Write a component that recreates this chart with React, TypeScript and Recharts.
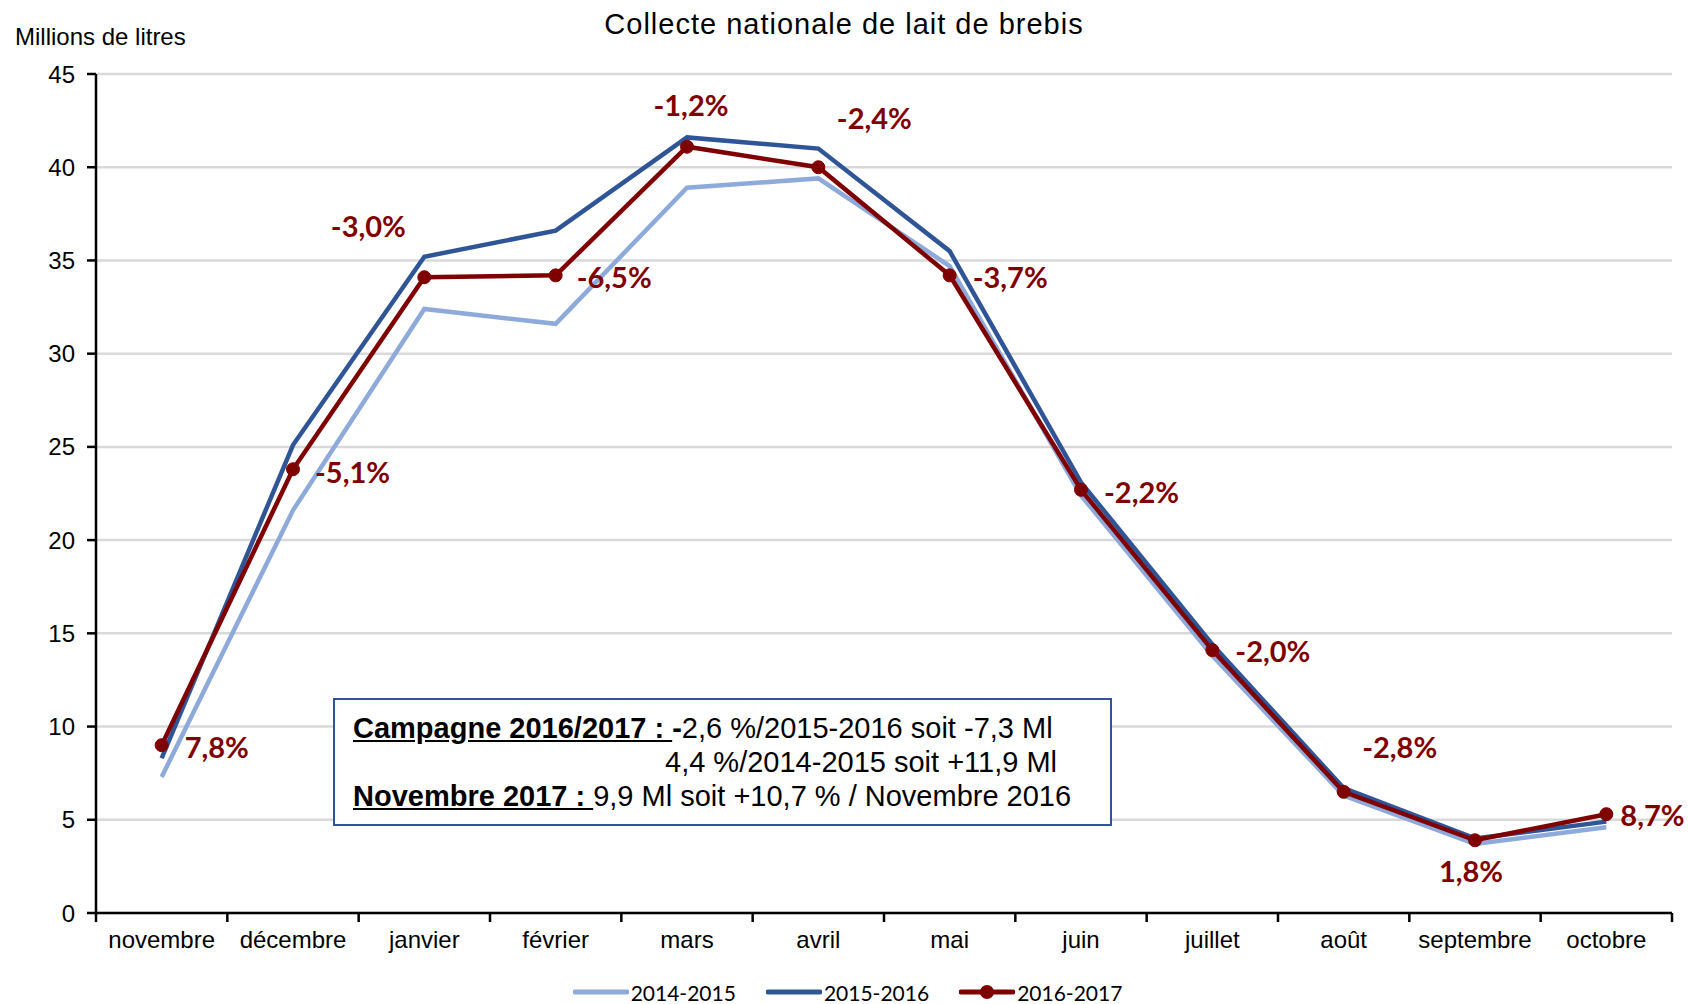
import { LineChart, Line, XAxis, YAxis, CartesianGrid, Legend, LabelList } from "recharts"

const months = ["novembre", "décembre", "janvier", "février", "mars", "avril", "mai", "juin", "juillet", "août", "septembre", "octobre"]
const serie1415 = [7.3, 21.6, 32.4, 31.6, 38.9, 39.4, 34.7, 22.4, 13.8, 6.3, 3.7, 4.6]
const serie1516 = [8.3, 25.1, 35.2, 36.6, 41.6, 41.0, 35.5, 23.1, 14.4, 6.7, 4.0, 4.9]
const serie1617 = [9.0, 23.8, 34.1, 34.2, 41.1, 40.0, 34.2, 22.7, 14.1, 6.5, 3.9, 5.3]
const variations = ["7,8%", "-5,1%", "-3,0%", "-6,5%", "-1,2%", "-2,4%", "-3,7%", "-2,2%", "-2,0%", "-2,8%", "1,8%", "8,7%"]
const yTicks = [0, 5, 10, 15, 20, 25, 30, 35, 40, 45]

const SERIES = [
    { key: "s1415", name: "2014-2015", color: "#8EAADB" },
    { key: "s1516", name: "2015-2016", color: "#2F5597" },
    { key: "s1617", name: "2016-2017", color: "#7F0000" },
]

// where each variation label sits relative to its point
const LABEL_POS = [
    { dx: 23, dy: 1, anchor: "start" },
    { dx: 22, dy: 2, anchor: "start" },
    { dx: -56, dy: -52, anchor: "middle" },
    { dx: 21, dy: 1, anchor: "start" },
    { dx: 4, dy: -42, anchor: "middle" },
    { dx: 56, dy: -50, anchor: "middle" },
    { dx: 23, dy: 1, anchor: "start" },
    { dx: 23, dy: 2, anchor: "start" },
    { dx: 23, dy: 0, anchor: "start" },
    { dx: 56, dy: -45, anchor: "middle" },
    { dx: -4, dy: 30, anchor: "middle" },
    { dx: 14, dy: 0, anchor: "start" },
]

const data = months.map((m, i) => ({
    month: m,
    s1415: serie1415[i],
    s1516: serie1516[i],
    s1617: serie1617[i],
    variation: variations[i],
}))

const W = 1688
const H = 1004
const PLOT_LEFT = 96
const PLOT_RIGHT = 16
const PLOT_BOTTOM = 913
const BAND = (W - PLOT_LEFT - PLOT_RIGHT) / months.length

const arial = "'Liberation Sans', Arial, sans-serif"
const calibri = "Lato, 'Open Sans', sans-serif"

const MonthTick = (props: any) => {
    const { x, payload, index } = props
    return (
        <g>
            <line x1={x - BAND / 2} x2={x - BAND / 2} y1={PLOT_BOTTOM} y2={PLOT_BOTTOM + 9} stroke="#000" strokeWidth={2.5} />
            {index === months.length - 1 && (
                <line x1={x + BAND / 2} x2={x + BAND / 2} y1={PLOT_BOTTOM} y2={PLOT_BOTTOM + 9} stroke="#000" strokeWidth={2.5} />
            )}
            <text x={x} y={PLOT_BOTTOM + 35} textAnchor="middle" fontFamily={arial} fontSize={24} fill="#000">
                {payload.value}
            </text>
        </g>
    )
}

const VariationLabel = (props: any) => {
    const { x, y, index, value } = props
    const p = LABEL_POS[index]
    return (
        <text x={x + p.dx} y={y + p.dy} textAnchor={p.anchor} dominantBaseline="central"
            fontFamily={calibri} fontWeight={700} fontSize={29} fill="#7F0000">
            {value}
        </text>
    )
}

const LegendContent = () => (
    <div style={{ display: "flex", justifyContent: "center", height: 24, alignItems: "center", paddingLeft: 53 }}>
        {SERIES.map((s) => (
            <div key={s.key} style={{ display: "flex", alignItems: "center", marginRight: 30 }}>
                <svg width={56} height={20}>
                    <line x1={2} x2={54} y1={10} y2={10} stroke={s.color} strokeWidth={5} strokeLinecap="round" />
                    {s.key === "s1617" && <circle cx={28} cy={10} r={7} fill={s.color} />}
                </svg>
                <span style={{ fontFamily: calibri, fontSize: 21, color: "#000", marginLeft: 2 }}>{s.name}</span>
            </div>
        ))}
    </div>
)

export default function App() {
    return (
        <div style={{ position: "absolute", left: 0, top: 0, width: W, height: H, background: "#fff" }}>
            <div style={{ position: "absolute", left: 0, width: W, top: 8, textAlign: "center", fontFamily: arial, fontSize: 29, letterSpacing: 1, color: "#000" }}>
                Collecte nationale de lait de brebis
            </div>
            <div style={{ position: "absolute", left: 15, top: 23, fontFamily: arial, fontSize: 24, color: "#000" }}>
                Millions de litres
            </div>
            <LineChart width={W} height={H} data={data} margin={{ top: 74, right: PLOT_RIGHT, bottom: 0, left: 0 }}>
                <CartesianGrid vertical={false} stroke="#D9D9D9" strokeWidth={2.5} />
                <XAxis dataKey="month" axisLine={{ stroke: "#000", strokeWidth: 2.5 }} tickLine={false} tick={<MonthTick />}
                    height={67} interval={0} padding={{ left: BAND / 2, right: BAND / 2 }} />
                <YAxis domain={[0, 45]} ticks={yTicks} width={PLOT_LEFT} axisLine={{ stroke: "#000", strokeWidth: 2.5 }}
                    tickLine={{ stroke: "#000", strokeWidth: 2.5 }} tickSize={9} tickMargin={12}
                    tick={{ fontFamily: arial, fontSize: 24, fill: "#000" }} />
                <Legend verticalAlign="bottom" content={<LegendContent />} />
                <Line dataKey="s1415" name="2014-2015" stroke="#8EAADB" strokeWidth={4.5} dot={false} isAnimationActive={false} />
                <Line dataKey="s1516" name="2015-2016" stroke="#2F5597" strokeWidth={4.5} dot={false} isAnimationActive={false} />
                <Line dataKey="s1617" name="2016-2017" stroke="#7F0000" strokeWidth={4.5}
                    dot={{ r: 6.5, fill: "#7F0000", stroke: "#7F0000", strokeWidth: 1 }} isAnimationActive={false}>
                    <LabelList dataKey="variation" content={<VariationLabel />} />
                </Line>
            </LineChart>
            <div style={{ position: "absolute", left: 333, top: 698, width: 779, height: 128, boxSizing: "border-box", border: "2.5px solid #2F5597", padding: "11px 0 0 18px", fontFamily: arial, fontSize: 29, lineHeight: "34px", color: "#000", background: "#fff", whiteSpace: "nowrap" }}>
                <div><u><b>Campagne 2016/2017 : </b></u><b>-</b>2,6 %/2015-2016 soit -7,3 Ml</div>
                <div style={{ paddingLeft: 312 }}>4,4 %/2014-2015 soit +11,9 Ml</div>
                <div><u><b>Novembre 2017 : </b></u>9,9 Ml soit +10,7 % / Novembre 2016</div>
            </div>
        </div>
    )
}
